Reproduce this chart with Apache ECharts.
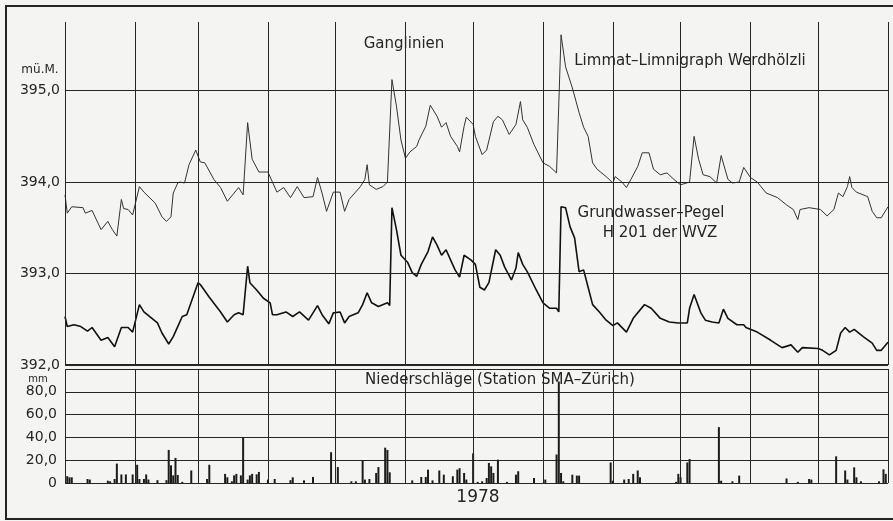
<!DOCTYPE html>
<html>
<head>
<meta charset="utf-8">
<script src="https://cdn.jsdelivr.net/npm/echarts/dist/echarts.min.js"></script>
<style>
  html, body { margin: 0; padding: 0; background: #f4f4f2; }
  #chart { width: 893px; height: 521px; }
</style>
</head>
<body>
<div id="chart"></div>
<script>
// Monatsgrenzen (Tag des Jahres 1978)
var monthStarts = [0, 31, 59, 90, 120, 151, 181, 212, 243, 273, 304, 334, 365];
var levelTicks = [392, 393, 394, 395];

// Limmat-Limnigraph Werdhölzli [Tag, m ü.M.]
var limmat = [
  [0,393.86],[1,393.66],[3,393.73],[8,393.72],[9,393.66],[12,393.69],[16,393.48],[19,393.57],[21,393.48],[23,393.41],
  [25,393.81],[26,393.71],[28,393.70],[30,393.64],[33,393.95],[35,393.89],[40,393.77],[43,393.62],[45,393.57],[47,393.62],
  [48,393.88],[50,393.99],[51,394.00],[53,393.99],[55,394.19],[58,394.35],[60,394.22],[62,394.21],[66,394.03],[69,393.94],
  [72,393.79],[75,393.88],[77,393.94],[79,393.86],[81,394.65],[83,394.25],[86,394.11],[90,394.11],[92,394.00],[94,393.89],
  [97,393.94],[100,393.83],[103,393.95],[106,393.83],[110,393.84],[112,394.05],[114,393.88],[116,393.68],[119,393.89],[122,393.89],
  [124,393.68],[126,393.81],[131,393.95],[133,394.03],[134,394.19],[135,393.97],[138,393.92],[141,393.95],[143,394.00],[145,395.12],
  [147,394.83],[149,394.46],[151,394.26],[153,394.33],[156,394.39],[157,394.46],[160,394.61],[162,394.84],[165,394.72],[167,394.60],
  [169,394.65],[171,394.50],[174,394.39],[175,394.33],[177,394.61],[178,394.71],[181,394.63],[182,394.50],[185,394.30],[187,394.35],
  [190,394.66],[192,394.72],[194,394.68],[197,394.52],[200,394.63],[202,394.88],[203,394.68],[205,394.60],[208,394.41],[212,394.21],
  [215,394.17],[218,394.10],[220,395.61],[222,395.26],[225,395.03],[228,394.76],[230,394.60],[232,394.50],[234,394.21],[236,394.14],
  [240,394.06],[243,393.99],[244,394.06],[247,394.00],[249,393.94],[251,394.03],[254,394.17],[256,394.32],[259,394.32],[261,394.14],
  [264,394.08],[267,394.10],[270,394.03],[273,393.97],[277,394.00],[279,394.50],[281,394.25],[283,394.08],[286,394.06],[289,393.99],
  [291,394.29],[294,394.03],[296,393.99],[299,394.00],[301,394.16],[304,394.05],[307,394.00],[311,393.88],[316,393.83],[320,393.75],
  [323,393.70],[325,393.59],[326,393.70],[330,393.72],[335,393.70],[338,393.63],[341,393.70],[343,393.88],[345,393.84],[347,393.95],
  [348,394.06],[349,393.94],[351,393.89],[356,393.84],[358,393.68],[360,393.61],[362,393.61],[365,393.73]
];

// Grundwasser-Pegel H201 der WVZ [Tag, m ü.M.]
var grundwasser = [
  [0,392.53],[1,392.42],[4,392.44],[7,392.42],[10,392.37],[12,392.41],[16,392.27],[19,392.30],[22,392.20],[25,392.41],
  [28,392.41],[30,392.36],[33,392.66],[35,392.58],[41,392.46],[43,392.35],[46,392.23],[48,392.31],[50,392.42],[52,392.53],
  [54,392.55],[59,392.90],[60,392.88],[64,392.74],[69,392.58],[72,392.47],[75,392.55],[77,392.57],[79,392.55],[81,393.08],
  [82,392.90],[85,392.82],[88,392.73],[91,392.68],[92,392.55],[94,392.55],[98,392.58],[101,392.53],[104,392.58],[108,392.49],
  [112,392.65],[114,392.55],[117,392.45],[119,392.57],[122,392.58],[124,392.46],[126,392.53],[130,392.57],[132,392.66],[134,392.79],
  [136,392.68],[139,392.64],[143,392.68],[144,392.65],[145,393.72],[147,393.48],[149,393.20],[152,393.12],[154,393.01],[156,392.97],
  [158,393.10],[161,393.24],[163,393.40],[165,393.31],[167,393.20],[169,393.26],[171,393.15],[173,393.04],[175,392.96],[177,393.20],
  [180,393.15],[182,393.10],[184,392.85],[186,392.82],[188,392.90],[191,393.26],[193,393.20],[195,393.07],[198,392.93],[200,393.06],
  [201,393.23],[203,393.10],[205,393.02],[209,392.82],[212,392.68],[215,392.62],[218,392.62],[219,392.58],[220,393.73],[222,393.72],
  [224,393.51],[226,393.39],[228,393.02],[230,393.04],[232,392.85],[234,392.66],[237,392.58],[240,392.49],[243,392.43],[245,392.46],
  [249,392.36],[252,392.51],[257,392.66],[260,392.62],[264,392.51],[268,392.47],[272,392.46],[276,392.46],[277,392.62],[279,392.77],
  [282,392.57],[284,392.49],[287,392.47],[290,392.46],[292,392.61],[294,392.51],[298,392.44],[301,392.44],[302,392.41],[307,392.36],
  [313,392.27],[318,392.19],[322,392.22],[325,392.14],[327,392.19],[334,392.18],[336,392.16],[339,392.11],[342,392.16],[344,392.35],
  [346,392.41],[348,392.36],[350,392.39],[354,392.31],[358,392.24],[360,392.16],[362,392.16],[365,392.25]
];

// Niederschläge Station SMA-Zürich [Tag, mm]
var niederschlag = [
  [1,6],[2,5],[3,5],[10,3.5],[11,3],[19,2],[20,1.5],[22,3.5],[23,17],[25,7.5],[27,7.5],[30,7.5],[32,16],[33,3.5],
  [35,3.5],[36,7.5],[37,3],[41,2.5],[45,2.5],[46,29],[47,15.5],[48,6.7],[49,22],[50,7],[52,1],[56,11],[63,3.5],[64,16],
  [71,8],[72,5],[74,1.5],[75,6.7],[76,8],[78,6.7],[79,40],[81,3],[82,6.7],[83,8],[85,7.6],[86,9.7],[90,3],[93,3.5],
  [100,2.5],[101,5],[106,2.3],[110,5.3],[118,27],[121,14],[127,1.5],[129,1.5],[132,20],[133,3],[135,3.5],[138,8.8],
  [139,14],[142,31],[143,29],[144,9.4],[154,2.3],[158,5.3],[160,5.3],[161,11.7],[163,2.3],[166,11],[168,7.3],[172,5.9],
  [174,11.7],[175,13],[177,8.8],[178,3],[181,26],[183,1],[185,1.5],[187,4.4],[188,17.6],[189,14.6],[190,8.8],[192,20.5],
  [196,1],[200,7.3],[201,10.3],[208,4.4],[213,3],[218,25],[219,89],[220,8.8],[221,1.5],[225,7.3],[227,6.5],[228,6.5],
  [242,18],[243,2],[248,3],[250,3.5],[252,8],[254,11],[255,5],[271,1],[272,8],[273,5],[276,18],[277,21],[290,49],[291,2],
  [296,1.5],[299,6.5],[320,4],[325,1],[330,3.5],[331,3],[342,23.4],[346,11],[347,3],[350,13.7],[351,5],[353,1.5],
  [361,1.5],[363,12],[364,8]
];

var ink = '#252525';
var fontName = '"DejaVu Sans", sans-serif';

function komma(v) {
  return v.toFixed(1).replace('.', ',');
}

// senkrechte Monatslinien
function monthLines() {
  return {
    silent: true,
    symbol: ['none', 'none'],
    label: { show: false },
    lineStyle: { color: ink, width: 1, type: 'solid' },
    emphasis: { disabled: true },
    data: monthStarts.map(function (d) { return { xAxis: d }; })
  };
}

function txt(s, x, y, size) {
  return {
    type: 'text', x: x, y: y, silent: true,
    style: {
      text: s, font: size + 'px ' + fontName, fill: ink,
      align: 'center', verticalAlign: 'middle',
      textAlign: 'center', textVerticalAlign: 'middle'
    }
  };
}

var chart = echarts.init(document.getElementById('chart'), null, { renderer: 'canvas' });
chart.setOption({
  backgroundColor: '#f4f4f2',
  animation: false,
  grid: [
    { left: 65, right: 5, top: 22, height: 343 },
    { left: 65, right: 5, top: 369, height: 114 }
  ],
  xAxis: [
    { type: 'value', gridIndex: 0, min: 0, max: 365, show: false },
    { type: 'value', gridIndex: 1, min: 0, max: 365, show: false }
  ],
  yAxis: [
    {
      type: 'value', gridIndex: 0, min: 392, max: 395.75, interval: 1,
      axisLine: { show: false }, axisTick: { show: false }, splitLine: { show: false },
      axisLabel: {
        margin: 5, fontSize: 14, fontFamily: fontName, color: ink,
        formatter: function (v) { return v % 1 === 0 ? komma(v) : ''; }
      }
    },
    {
      type: 'value', gridIndex: 1, min: 0, max: 100, interval: 20,
      axisLine: { show: false }, axisTick: { show: false },
      splitLine: { show: true, lineStyle: { color: ink, width: 1 } },
      axisLabel: {
        margin: 8, fontSize: 14, fontFamily: fontName, color: ink,
        formatter: function (v) { return v === 100 ? '' : (v === 0 ? '0' : komma(v)); }
      }
    }
  ],
  series: [
    {
      name: 'Limmat-Limnigraph Werdhölzli', type: 'line', xAxisIndex: 0, yAxisIndex: 0,
      data: limmat, showSymbol: false, clip: false,
      lineStyle: { color: '#333', width: 1 },
      markLine: monthLines()
    },
    {
      name: 'Grundwasser-Pegel H201 der WVZ', type: 'line', xAxisIndex: 0, yAxisIndex: 0,
      data: grundwasser, showSymbol: false,
      lineStyle: { color: '#111', width: 1.6 },
      markLine: {
        silent: true, symbol: ['none', 'none'], label: { show: false },
        emphasis: { disabled: true },
        lineStyle: { color: ink, width: 1, type: 'solid' },
        data: levelTicks.map(function (v) {
          return { yAxis: v, lineStyle: { color: ink, type: 'solid', width: v === 392 ? 2 : 1 } };
        })
      }
    },
    {
      name: 'Niederschläge', type: 'bar', xAxisIndex: 1, yAxisIndex: 1,
      data: niederschlag, barWidth: 2,
      itemStyle: { color: '#1c1c1c' },
      markLine: monthLines()
    }
  ],
  graphic: [
    { type: 'rect', silent: true, shape: { x: 6, y: 6, width: 900, height: 513 },
      style: { fill: 'none', stroke: ink, lineWidth: 2 } },
    txt('mü.M.', 40, 70, 12),
    txt('mm', 38, 379, 10),
    txt('Ganglinien', 404, 44, 15),
    txt('Limmat–Limnigraph Werdhölzli', 690, 61, 15),
    txt('Grundwasser–Pegel', 651, 213, 15),
    txt('H 201 der WVZ', 660, 233, 15),
    txt('Niederschläge (Station SMA–Zürich)', 500, 380, 15),
    txt('1978', 478, 498, 17)
  ]
});
</script>
</body>
</html>
